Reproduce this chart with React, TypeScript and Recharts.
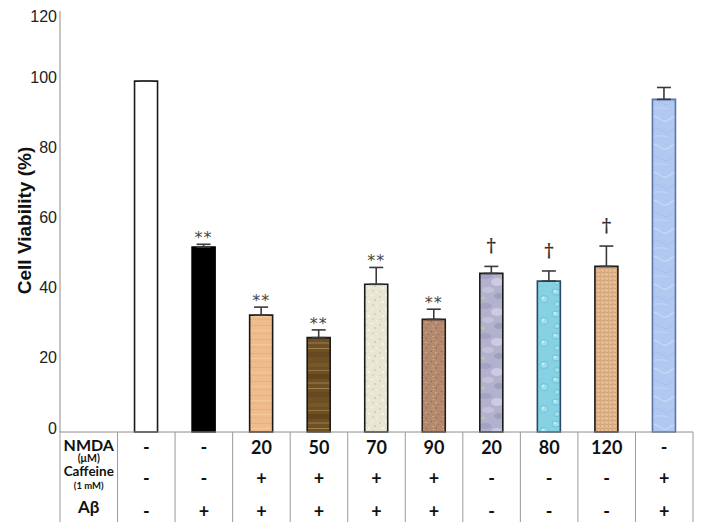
import React from "react";
import { BarChart, Bar, XAxis, YAxis, Cell, ErrorBar, LabelList } from "recharts";

// ---------- data ----------
const nmdaRow = ["-", "-", "20", "50", "70", "90", "20", "80", "120", "-"];
const caffeineRow = ["-", "-", "+", "+", "+", "+", "-", "-", "-", "+"];
const abetaRow = ["-", "+", "+", "+", "+", "+", "-", "-", "-", "+"];
const viability = [100, 52.7, 33.3, 26.9, 42.1, 32.1, 45.2, 43.0, 47.2, 94.8];
const sem = [0, 0.8, 2.3, 2.2, 4.8, 2.9, 2.0, 2.9, 5.8, 3.4];
const significance = ["", "**", "**", "**", "**", "**", "†", "†", "†", ""];
const rowLabels: [string, string][] = [
  ["NMDA", "(μM)"],
  ["Caffeine", "(1 mM)"],
  ["Aβ", ""],
];
const yTicks = [0, 20, 40, 60, 80, 100, 120];
const yTitle = "Cell Viability (%)";

// ---------- styles ----------
const fills = [
  "#ffffff",
  "#000000",
  "url(#pWoodLight)",
  "url(#pWoodDark)",
  "url(#pGranite)",
  "url(#pSand)",
  "url(#pMarble)",
  "url(#pWater)",
  "url(#pCanvas)",
  "url(#pBlue)",
];
const strokes = ["#1a1a1a", "#000", "#1a1a1a", "#1a1a1a", "#1a1a1a", "#2a1e18", "#1a1a1a", "#2c4a66", "#1a1a1a", "#5a74a6"];

const TABLE_FONT = "Lato, 'Open Sans', sans-serif";
const AXIS_FONT = "'Liberation Sans', Arial, sans-serif";

type Row = { cat: string; v: number | null; err?: [number, number]; idx: number };
const data: Row[] = [
  { cat: "labels", v: null, idx: -1 },
  ...viability.map((v, i) => ({
    cat: `c${i}`,
    v,
    err: [0, sem[i]] as [number, number],
    idx: i,
  })),
];

const rowY = [15, 46, 79];

function TableTick(props: any) {
  const { x, y, payload, index } = props;
  const half = payload && payload.offset ? payload.offset : 28.75;
  const i = typeof index === "number" ? index : data.findIndex((d) => d.cat === payload.value);
  const lineColor = "#9a9a9a";
  const left = x - half;
  const right = x + half;
  const bottom = y + 90;
  const els: React.ReactNode[] = [];
  els.push(<line key="l" x1={left} x2={left} y1={y} y2={bottom} stroke={lineColor} strokeWidth={1} />);
  if (i === data.length - 1) {
    els.push(<line key="r" x1={right} x2={right} y1={y} y2={bottom} stroke={lineColor} strokeWidth={1} />);
  }
  if (i === 0) {
    els.push(
      <text key="n1" x={x} y={y + 12} textAnchor="middle" dominantBaseline="central" fontFamily={TABLE_FONT} fontWeight={700} fontSize={16} fill="#111">
        {rowLabels[0][0]}
      </text>,
      <text key="n2" x={x} y={y + 26} textAnchor="middle" dominantBaseline="central" fontFamily={TABLE_FONT} fontWeight={700} fontSize={10.5} fill="#111">
        {rowLabels[0][1]}
      </text>,
      <text key="c1" x={x} y={y + 39} textAnchor="middle" dominantBaseline="central" fontFamily={TABLE_FONT} fontWeight={700} fontSize={13.5} fill="#111">
        {rowLabels[1][0]}
      </text>,
      <text key="c2" x={x} y={y + 53} textAnchor="middle" dominantBaseline="central" fontFamily={TABLE_FONT} fontWeight={700} fontSize={9.5} fill="#111">
        {rowLabels[1][1]}
      </text>,
      <text key="a1" x={x} y={y + 74} textAnchor="middle" dominantBaseline="central" fontFamily={TABLE_FONT} fontWeight={700} fontSize={17} fill="#111">
        {rowLabels[2][0]}
      </text>
    );
  } else {
    const k = i - 1;
    const vals = [nmdaRow[k], caffeineRow[k], abetaRow[k]];
    vals.forEach((t, r) => {
      els.push(
        <text key={`v${r}`} x={x} y={y + rowY[r]} textAnchor="middle" dominantBaseline="central" fontFamily={TABLE_FONT} fontWeight={700} fontSize={18} fill="#111">
          {t}
        </text>
      );
    });
  }
  return <g>{els}</g>;
}

function YTick(props: any) {
  const { x, y, payload } = props;
  const ty = Math.max(y - 4, 16);
  return (
    <text x={x - 3} y={ty} textAnchor="end" dominantBaseline="central" fontFamily={AXIS_FONT} fontSize={16} fill="#222">
      {payload.value}
    </text>
  );
}

function YTitle(props: any) {
  const vb = props.viewBox || { x: 0, y: 11, width: 60, height: 421 };
  const cx = 24;
  const cy = vb.y + vb.height / 2 - 1;
  return (
    <text
      x={cx}
      y={cy}
      transform={`rotate(-90 ${cx} ${cy})`}
      textAnchor="middle"
      dominantBaseline="central"
      fontFamily={AXIS_FONT}
      fontWeight={700}
      fontSize={19}
      fill="#111"
    >
      {yTitle}
    </text>
  );
}

function SigLabel(props: any) {
  const { x, y, width, height, value } = props;
  const i = value as number;
  if (i == null || i < 0) return null;
  const s = significance[i];
  if (!s) return null;
  const pxPerUnit = height / viability[i];
  const errTop = y - sem[i] * pxPerUnit;
  const cx = x + width / 2;
  if (s === "†") {
    return (
      <text x={cx} y={errTop - 14} textAnchor="middle" fontFamily="'DejaVu Serif', serif" fontWeight={700} fontSize={18} fill="#333">
        {s}
      </text>
    );
  }
  return (
    <text x={cx} y={errTop - 1} textAnchor="middle" fontFamily="'DejaVu Sans', sans-serif" fontSize={16} letterSpacing={1} fill="#45453a">
      {s}
    </text>
  );
}

function Patterns() {
  return (
    <svg width={0} height={0} style={{ position: "absolute" }}>
      <defs>
        <pattern id="pWoodLight" patternUnits="userSpaceOnUse" width={24} height={14}>
          <rect width={24} height={14} fill="#EFBC8B" />
          <rect y={3} width={24} height={1} fill="#E6B07E" />
          <rect y={8} width={24} height={1} fill="#F5C899" />
          <rect y={11} width={24} height={1} fill="#EAB584" />
        </pattern>
        <pattern id="pWoodDark" patternUnits="userSpaceOnUse" width={30} height={40}>
          <rect width={30} height={40} fill="#6D5024" />
          <rect y={3} width={30} height={4} fill="#76592A" />
          <rect y={10} width={30} height={1} fill="#957643" />
          <rect y={14} width={30} height={5} fill="#60451C" />
          <rect y={22} width={30} height={2} fill="#84663A" />
          <rect y={28} width={30} height={1} fill="#9E7F4B" />
          <rect y={32} width={30} height={5} fill="#654920" />
        </pattern>
        <pattern id="pGranite" patternUnits="userSpaceOnUse" width={14} height={14}>
          <rect width={14} height={14} fill="#E8E7D4" />
          <rect x={1} y={2} width={2} height={2} fill="#D6D4BE" />
          <rect x={7} y={1} width={2} height={1} fill="#F7F7EE" />
          <rect x={10} y={5} width={2} height={2} fill="#D3D1BA" />
          <rect x={4} y={7} width={2} height={2} fill="#F5F5EA" />
          <rect x={2} y={11} width={1} height={1} fill="#CDCBB2" />
          <rect x={8} y={10} width={2} height={2} fill="#DAD8C3" />
          <rect x={12} y={12} width={1} height={1} fill="#F8F8F0" />
        </pattern>
        <pattern id="pSand" patternUnits="userSpaceOnUse" width={10} height={10}>
          <rect width={10} height={10} fill="#B48A6F" />
          <rect x={1} y={1} width={1} height={1} fill="#8C5D45" />
          <rect x={5} y={2} width={2} height={1} fill="#D2A88E" />
          <rect x={8} y={4} width={1} height={1} fill="#93634A" />
          <rect x={2} y={6} width={2} height={1} fill="#CFA48A" />
          <rect x={6} y={7} width={1} height={2} fill="#9B6D53" />
          <rect x={3} y={9} width={1} height={1} fill="#D8B29A" />
        </pattern>
        <pattern id="pMarble" patternUnits="userSpaceOnUse" width={24} height={30}>
          <rect width={24} height={30} fill="#B3B2CE" />
          <ellipse cx={5} cy={6} rx={7} ry={3} fill="#A4A3C4" />
          <ellipse cx={17} cy={12} rx={6} ry={4} fill="#CDCBE1" />
          <ellipse cx={8} cy={20} rx={6} ry={3} fill="#C2C3D8" />
          <ellipse cx={19} cy={26} rx={5} ry={3} fill="#A09FC0" />
          <ellipse cx={3} cy={28} rx={2} ry={1.5} fill="#B6CDA8" />
        </pattern>
        <pattern id="pWater" patternUnits="userSpaceOnUse" width={22} height={22}>
          <rect width={22} height={22} fill="#86D1E3" />
          <ellipse cx={6} cy={6} rx={4} ry={3} fill="#9EDDEB" stroke="#62B8CF" strokeWidth={0.7} />
          <ellipse cx={16} cy={13} rx={4} ry={3.5} fill="#9EDDEB" stroke="#62B8CF" strokeWidth={0.7} />
          <ellipse cx={7} cy={18} rx={3} ry={2.5} fill="#9EDDEB" stroke="#62B8CF" strokeWidth={0.7} />
          <circle cx={5} cy={5} r={1} fill="#D4F3F9" />
          <circle cx={15} cy={12} r={1} fill="#D4F3F9" />
        </pattern>
        <pattern id="pCanvas" patternUnits="userSpaceOnUse" width={4} height={4}>
          <rect width={4} height={4} fill="#E2B78D" />
          <rect y={0} width={4} height={1} fill="#D4A578" />
          <rect x={0} width={1} height={4} fill="#D8AC80" />
          <rect x={2} y={2} width={1} height={1} fill="#EFCCA6" />
        </pattern>
        <pattern id="pBlue" patternUnits="userSpaceOnUse" width={24} height={28}>
          <rect width={24} height={28} fill="#B1C9F1" />
          <path d="M0 6 Q6 2 12 7 T24 5" stroke="#C6D8F6" strokeWidth={1.3} fill="none" />
          <path d="M0 18 Q8 14 14 19 T24 17" stroke="#A6C0EC" strokeWidth={1} fill="none" />
          <path d="M4 26 Q10 22 20 25" stroke="#C2D5F5" strokeWidth={1} fill="none" />
        </pattern>
      </defs>
    </svg>
  );
}

export default function App() {
  return (
    <div style={{ position: "absolute", left: 0, top: 0, width: 704, height: 527, background: "#fff" }}>
      <Patterns />
      <BarChart width={704} height={527} data={data} margin={{ top: 11, right: 11, left: 0, bottom: 0 }}>
        <XAxis
          dataKey="cat"
          height={95}
          interval={0}
          axisLine={{ stroke: "#8c8c8c", strokeWidth: 1 }}
          tickLine={false}
          tickSize={0}
          tickMargin={0}
          tick={<TableTick />}
        />
        <YAxis
          width={60}
          domain={[0, 120]}
          ticks={yTicks}
          interval={0}
          axisLine={{ stroke: "#8c8c8c", strokeWidth: 1 }}
          tickLine={false}
          tickSize={0}
          tickMargin={0}
          tick={<YTick />}
          label={YTitle}
        />
        <Bar dataKey="v" barSize={23} isAnimationActive={false} strokeWidth={1.6}>
          {data.map((d, i) => (
            <Cell key={i} fill={i === 0 ? "none" : fills[i - 1]} stroke={i === 0 ? "none" : strokes[i - 1]} />
          ))}
          <ErrorBar dataKey="err" width={7} stroke="#3a3a3a" strokeWidth={1.6} direction="y" isAnimationActive={false} />
          <LabelList dataKey="idx" content={<SigLabel />} />
        </Bar>
      </BarChart>
    </div>
  );
}
